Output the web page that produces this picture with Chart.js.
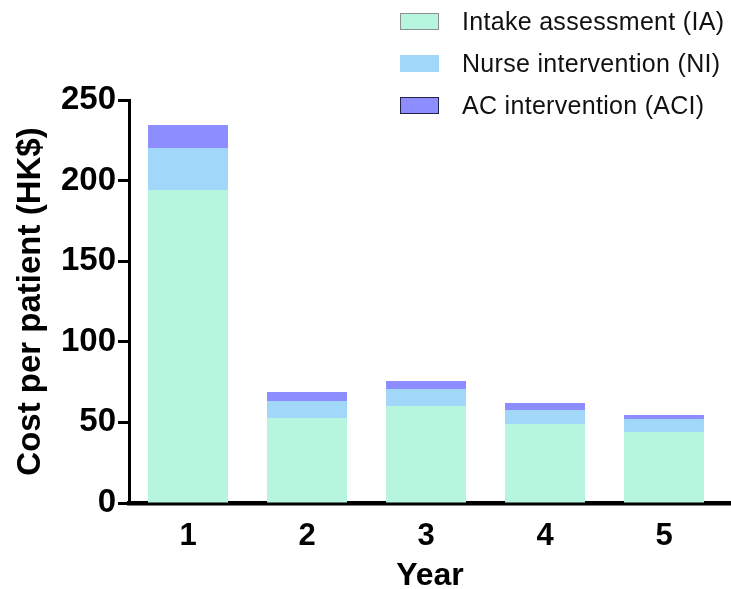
<!DOCTYPE html>
<html>
<head>
<meta charset="utf-8">
<title>Cost per patient by year</title>
<script src="https://cdn.jsdelivr.net/npm/chart.js@4.4.1/dist/chart.umd.min.js"></script>
<style>
  html, body { margin: 0; padding: 0; background: #ffffff; }
  #wrap { position: relative; width: 731px; height: 589px; overflow: hidden; }
  #cost { display: block; }
  #legend {
    position: absolute; left: 400px; top: 0; margin: 0; padding: 0; list-style: none;
    font-family: "Liberation Sans", Arial, sans-serif; font-size: 25px; letter-spacing: 0.3px; color: #111;
  }
  #legend li { display: flex; align-items: center; height: 42px; white-space: nowrap; }
  #legend .box { box-sizing: border-box; width: 39px; height: 17px; margin-right: 23px; border: 1px solid; }
</style>
</head>
<body>
<div id="wrap">
  <canvas id="cost" width="731" height="589"></canvas>
  <ul id="legend"></ul>
</div>
<script>
// Years on the horizontal axis
const years = [1, 2, 3, 4, 5];

// Cost per patient (HK$) for each programme component, stacked per year
const intakeAssessment  = [194.2, 52.7, 60.2, 49.0, 44.0];
const nurseIntervention = [26.0, 10.6, 10.5, 8.7, 8.1];
const acIntervention    = [14.3, 5.6, 5.0, 4.3, 2.5];

const seriesNames = ['Intake assessment (IA)', 'Nurse intervention (NI)', 'AC intervention (ACI)'];
const yTicks = [0, 50, 100, 150, 200, 250];

const fills   = ['#B6F6DF', '#A1D7F9', '#8D8DFF'];
const strokes = ['#8E8E8E', '#A1D7F9', '#222244'];

const toPoints = vals => years.map((yr, i) => ({ x: yr, y: vals[i] }));
const seriesValues = [intakeAssessment, nurseIntervention, acIntervention];

const boldFont = size => ({ family: '"Liberation Sans", Arial, sans-serif', weight: 'bold', size: size, lineHeight: 1 });

// Builds the legend list beside the chart from Chart.js legend items
const htmlLegend = {
  id: 'htmlLegend',
  afterUpdate(chart) {
    const ul = document.getElementById('legend');
    ul.innerHTML = '';
    const items = chart.options.plugins.legend.labels.generateLabels(chart);
    items.forEach(item => {
      const li = document.createElement('li');
      const box = document.createElement('span');
      box.className = 'box';
      box.style.background = item.fillStyle;
      box.style.borderColor = item.strokeStyle;
      const txt = document.createElement('span');
      txt.textContent = item.text;
      li.appendChild(box);
      li.appendChild(txt);
      ul.appendChild(li);
    });
  }
};

new Chart(document.getElementById('cost'), {
  type: 'bar',
  data: {
    datasets: seriesValues.map((vals, k) => ({
      label: seriesNames[k],
      data: toPoints(vals),
      backgroundColor: fills[k],
      borderColor: strokes[k],
      borderWidth: 0,
      categoryPercentage: 1,
      barPercentage: 0.672
    }))
  },
  options: {
    responsive: false,
    animation: false,
    devicePixelRatio: 1,
    layout: { padding: { top: 100, left: 0, right: 0, bottom: 0 } },
    plugins: {
      legend: { display: false },
      tooltip: { enabled: false }
    },
    scales: {
      x: {
        type: 'linear',
        stacked: true,
        offset: false,
        min: 0.504,
        max: 5.563,
        afterBuildTicks(scale) { scale.ticks = years.map(v => ({ value: v })); },
        afterFit(scale) { scale.height = 86; },
        grid: { display: false, drawTicks: false, offset: false },
        border: { display: true, color: '#000000', width: 4.5 },
        ticks: {
          color: '#000000',
          font: boldFont(31),
          padding: 18,
          maxRotation: 0,
          callback: v => String(v)
        },
        title: {
          display: true,
          text: 'Year',
          color: '#000000',
          font: Object.assign(boldFont(32), { lineHeight: 0.78 }),
          padding: { top: 0, bottom: 0 }
        }
      },
      y: {
        stacked: true,
        min: 0,
        max: 250,
        afterBuildTicks(scale) { scale.ticks = yTicks.map(v => ({ value: v })); },
        afterFit(scale) { scale.width = 129; },
        grid: { drawOnChartArea: false, drawTicks: true, tickLength: 11, tickWidth: 3, tickColor: '#000000' },
        border: { display: true, color: '#000000', width: 3 },
        ticks: {
          color: '#000000',
          font: boldFont(33),
          padding: 2,
          callback: v => String(v)
        },
        title: {
          display: true,
          text: 'Cost per patient (HK$)',
          color: '#000000',
          font: boldFont(33),
          padding: { top: 14, bottom: 0 }
        }
      }
    }
  },
  plugins: [htmlLegend]
});
</script>
</body>
</html>
